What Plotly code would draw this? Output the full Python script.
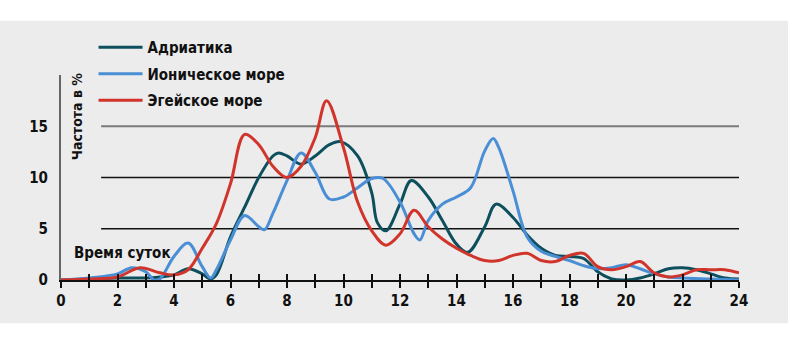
import plotly.graph_objects as go

hours_adr = [0, 1, 2, 3, 3.5, 4, 4.5, 5, 5.3, 5.5, 6, 6.5, 7, 7.5, 7.7, 8, 8.5, 9, 9.5, 9.9, 10.5, 11, 11.2, 11.5, 12, 12.4, 13, 13.5, 14, 14.4, 15, 15.4, 16, 16.5, 17, 17.5, 18, 18.5, 19, 19.5, 20, 20.5, 21, 21.5, 22, 22.5, 23, 23.5, 24]
adriatic = [0.0, 0.1, 0.2, 0.2, 0.3, 0.5, 1.1, 0.6, 0.1, 0.5, 4.2, 7.1, 10.0, 12.1, 12.4, 12.1, 11.3, 12.1, 13.2, 13.5, 12.1, 8.5, 5.6, 4.8, 7.4, 9.7, 8.1, 5.8, 3.5, 2.7, 5.2, 7.4, 6.1, 4.4, 3.1, 2.4, 2.3, 2.1, 0.8, 0.1, 0.0, 0.2, 0.6, 1.1, 1.2, 1.0, 0.6, 0.2, 0.1]

hours_ion = [0, 1, 2, 2.5, 3, 3.3, 3.5, 4, 4.5, 5, 5.3, 5.5, 6, 6.5, 7, 7.2, 7.5, 8, 8.5, 9, 9.5, 10, 10.5, 11, 11.4, 12, 12.5, 12.7, 13, 13.5, 14, 14.5, 15, 15.3, 15.5, 16, 16.5, 17, 17.5, 18, 18.5, 19, 19.5, 20, 20.5, 21, 21.5, 22, 23, 24]
ionian = [0.0, 0.2, 0.6, 1.2, 0.8, 0.0, 0.1, 2.3, 3.6, 1.3, 0.2, 1.0, 3.9, 6.3, 5.2, 4.9, 6.5, 9.7, 12.4, 10.5, 7.9, 8.1, 9.0, 9.9, 9.9, 7.6, 4.5, 3.9, 5.8, 7.4, 8.1, 9.0, 12.6, 13.8, 12.9, 8.7, 4.2, 2.8, 2.3, 1.9, 1.4, 1.1, 1.2, 1.5, 1.1, 0.6, 0.3, 0.2, 0.1, 0.0]

hours_aeg = [0, 1, 2, 2.8, 3.5, 4, 4.5, 5, 5.5, 6, 6.5, 7, 7.5, 8, 8.5, 9, 9.4, 10, 10.5, 11, 11.5, 12, 12.5, 13, 13.5, 14, 14.5, 15, 15.5, 16, 16.5, 17, 17.5, 18, 18.5, 19, 19.5, 20, 20.5, 21, 21.5, 22, 22.5, 23, 23.5, 24]
aegean = [0.0, 0.1, 0.3, 1.2, 0.7, 0.5, 1.0, 3.1, 5.5, 9.4, 14.2, 13.2, 11.1, 10.0, 11.1, 13.9, 17.5, 12.9, 7.6, 4.8, 3.4, 4.5, 6.8, 5.2, 4.0, 3.1, 2.4, 1.9, 1.9, 2.4, 2.6, 1.9, 1.8, 2.4, 2.6, 1.3, 1.0, 1.3, 1.8, 0.7, 0.3, 0.5, 1.0, 1.0, 1.0, 0.7]

series_names = ["Адриатика", "Ионическое море", "Эгейское море"]
series_colors = ["#0e4f5e", "#4a8fd6", "#d0342a"]

x_tickvals = list(range(0, 25))
x_ticktext = [str(v) if v % 2 == 0 else "" for v in x_tickvals]
y_tickvals = [0, 5, 10, 15]
grid_levels = [5, 10, 15]

y_title = "Частота в %"
x_title = "Время суток"

FONT = "Liberation Sans Narrow, Arial Narrow, DejaVu Sans Condensed, sans-serif"

fig = go.Figure()
for i, (xs, ys) in enumerate([(hours_adr, adriatic), (hours_ion, ionian), (hours_aeg, aegean)]):
    fig.add_trace(go.Scatter(
        x=xs, y=ys, mode="lines", name=series_names[i],
        line=dict(color=series_colors[i], width=3, shape="spline", smoothing=1.0),
        legendgroup=str(i), xaxis="x", yaxis="y",
    ))

# invisible trace for inside ticks
fig.add_trace(go.Scatter(x=[0, 24], y=[0, 0], mode="lines", line=dict(width=0),
                         showlegend=False, hoverinfo="skip", xaxis="x2", yaxis="y"))

shapes = [
    dict(type="rect", xref="paper", yref="paper",
         x0=-61 / 678, x1=(788 - 61) / 678, y0=-(324 - 280.5) / 206, y1=(280.5 - 20) / 206,
         fillcolor="#ececec", line=dict(width=0), layer="below"),
]
for g in grid_levels:
    shapes.append(dict(type="line", xref="x", yref="y", x0=1.42, x1=24, y0=g, y1=g,
                       line=dict(color="#7a7a7a" if g == 15 else "#111111", width=2.2 if g == 15 else 1.6),
                       layer="below"))

fig.update_layout(
    width=800, height=340,
    margin=dict(l=61, r=61, t=74.5, b=59.5),
    paper_bgcolor="white", plot_bgcolor="rgba(0,0,0,0)",
    shapes=shapes,
    font=dict(family=FONT, size=15, color="#111111", weight="bold"),
    showlegend=True,
    legend=dict(x=0.048, y=1.215, xanchor="left", yanchor="top", bgcolor="rgba(0,0,0,0)",
                font=dict(family=FONT, size=15, color="#111111", weight="bold"),
                tracegroupgap=4, itemwidth=44),
    xaxis=dict(range=[0, 24], tickvals=x_tickvals, ticktext=x_ticktext, ticks="outside",
               ticklen=6, tickwidth=2, tickcolor="#111111", showline=True, linecolor="#111111",
               linewidth=2, showgrid=False, zeroline=False, fixedrange=True,
               tickfont=dict(family=FONT, size=15, color="#111111", weight="bold")),
    xaxis2=dict(range=[0, 24], overlaying="x", anchor="y", side="bottom", tickvals=x_tickvals,
                showticklabels=False, ticks="inside", ticklen=6, tickwidth=2, tickcolor="#111111",
                showline=False, showgrid=False, zeroline=False),
    yaxis=dict(range=[0, 20], tickvals=y_tickvals, ticks="outside", ticklen=8,
               tickcolor="rgba(0,0,0,0)", showline=True, linecolor="#666666", linewidth=2,
               showgrid=False, zeroline=False,
               tickfont=dict(family=FONT, size=15, color="#111111", weight="bold")),
    annotations=[
        dict(text=y_title, textangle=-90, xref="paper", yref="paper",
             x=(77 - 61) / 678, y=(280.5 - 116) / 206, showarrow=False, xanchor="center", yanchor="middle",
             font=dict(family=FONT, size=14, color="#111111", weight="bold")),
        dict(text=x_title, xref="paper", yref="paper",
             x=(72 - 61) / 678, y=(280.5 - 253.5) / 206, showarrow=False, xanchor="left", yanchor="middle",
             font=dict(family=FONT, size=15, color="#111111", weight="bold")),
    ],
)

fig.write_html("out.html")
